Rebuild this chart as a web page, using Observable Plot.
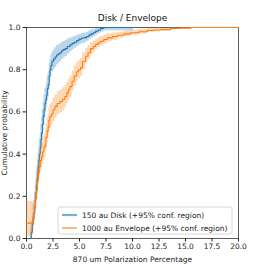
<!DOCTYPE html>
<html>
<head>
<meta charset="utf-8">
<script src="https://cdn.jsdelivr.net/npm/d3@7"></script>
<script src="https://cdn.jsdelivr.net/npm/@observablehq/plot@0.6"></script>
<style>
  html, body { margin: 0; padding: 0; background: #fff; }
  svg { display: block; }
</style>
</head>
<body>
<div id="chart"></div>
<script>
// ---- Data ----
const titleText = "Disk / Envelope";
const xLabel = "870 um Polarization Percentage";
const yLabel = "Cumulative probability";
const seriesNames = ["150 au Disk (+95% conf. region)", "1000 au Envelope (+95% conf. region)"];
const xTicks = [0, 2.5, 5, 7.5, 10, 12.5, 15, 17.5, 20];
const yTicks = [0, 0.2, 0.4, 0.6, 0.8, 1.0];

const diskX  = [0.38,0.45,0.55,0.62,0.69,0.76,0.83,0.90,0.95,1.00,1.05,1.10,1.16,1.22,1.30,1.36,1.42,1.50,1.58,1.66,1.74,1.82,1.89,1.96,2.05,2.14,2.22,2.30,2.40,2.55,2.70,2.84,3.00,3.15,3.30,3.47,3.65,3.85,4.10,4.30,4.50,4.73,4.95,5.20,5.45,5.67,5.90,6.10,6.30,6.52,6.75,6.99,7.30,10.1];
const diskY  = [0.00,0.03,0.07,0.10,0.12,0.15,0.19,0.22,0.25,0.28,0.31,0.34,0.37,0.40,0.43,0.47,0.50,0.54,0.58,0.61,0.64,0.66,0.68,0.71,0.73,0.77,0.80,0.82,0.84,0.85,0.86,0.87,0.875,0.88,0.89,0.895,0.90,0.91,0.918,0.925,0.93,0.938,0.945,0.95,0.952,0.957,0.965,0.97,0.975,0.982,0.988,0.995,1.0,1.0];
const diskLo = [0.00,0.00,0.02,0.04,0.06,0.08,0.12,0.15,0.18,0.21,0.24,0.27,0.30,0.33,0.36,0.40,0.43,0.47,0.51,0.54,0.57,0.60,0.62,0.65,0.67,0.71,0.74,0.77,0.79,0.80,0.81,0.822,0.83,0.838,0.848,0.856,0.863,0.875,0.886,0.895,0.902,0.91,0.918,0.924,0.928,0.935,0.944,0.95,0.956,0.964,0.971,0.978,0.985,0.985];
const diskHi = [0.05,0.08,0.12,0.16,0.18,0.22,0.26,0.29,0.32,0.35,0.38,0.41,0.44,0.47,0.50,0.54,0.57,0.61,0.65,0.68,0.71,0.72,0.74,0.77,0.79,0.83,0.85,0.87,0.885,0.895,0.905,0.915,0.918,0.922,0.93,0.934,0.938,0.945,0.95,0.955,0.958,0.963,0.968,0.972,0.974,0.978,0.985,0.988,0.992,0.997,1.0,1.0,1.0,1.0];

const envX  = [0.00,0.63,0.70,0.78,0.86,0.95,1.02,1.10,1.20,1.30,1.42,1.52,1.63,1.73,1.83,1.95,2.05,2.12,2.20,2.35,2.50,2.68,2.90,3.15,3.40,3.62,3.80,3.94,4.10,4.30,4.50,4.73,4.90,5.10,5.30,5.58,5.80,6.05,6.30,6.52,6.75,6.99,7.30,7.63,8.10,8.57,9.20,9.83,10.60,11.40,12.00,12.67,13.60,14.50,15.50,20.0];
const envY  = [0.073,0.10,0.12,0.15,0.19,0.23,0.27,0.31,0.34,0.37,0.39,0.41,0.43,0.44,0.48,0.51,0.53,0.56,0.578,0.59,0.61,0.626,0.64,0.65,0.66,0.673,0.69,0.705,0.72,0.745,0.77,0.79,0.80,0.81,0.84,0.864,0.88,0.90,0.91,0.92,0.928,0.935,0.943,0.951,0.957,0.963,0.97,0.975,0.98,0.986,0.988,0.99,0.995,0.997,1.0,1.0];
const envLo = [0.01,0.04,0.06,0.09,0.13,0.17,0.21,0.25,0.28,0.31,0.33,0.35,0.37,0.38,0.42,0.45,0.47,0.50,0.52,0.535,0.555,0.57,0.585,0.595,0.605,0.62,0.638,0.655,0.67,0.697,0.723,0.745,0.757,0.768,0.80,0.828,0.847,0.872,0.884,0.896,0.905,0.913,0.922,0.932,0.94,0.948,0.957,0.963,0.969,0.977,0.98,0.983,0.99,0.993,0.998,0.998];
const envHi = [0.175,0.17,0.18,0.21,0.25,0.29,0.33,0.37,0.40,0.43,0.45,0.47,0.49,0.50,0.54,0.57,0.59,0.62,0.636,0.645,0.665,0.68,0.695,0.705,0.715,0.726,0.742,0.755,0.77,0.793,0.817,0.835,0.843,0.852,0.88,0.9,0.913,0.928,0.936,0.944,0.951,0.957,0.964,0.97,0.974,0.978,0.983,0.987,0.991,0.995,0.996,0.997,1.0,1.0,1.0,1.0];

// ---- Tables ----
const disk = diskX.map((x, i) => ({x, y: diskY[i], lo: diskLo[i], hi: diskHi[i]}));
const env  = envX.map((x, i) => ({x, y: envY[i], lo: envLo[i], hi: envHi[i]}));

const blue = "#1f77b4", orange = "#ff7f0e";
const FONT = "DejaVu Sans, sans-serif";

const chart = Plot.plot({
  width: 264,
  height: 264,
  marginLeft: 26,
  marginRight: 26,
  marginTop: 27,
  marginBottom: 26,
  style: {fontFamily: FONT, fontSize: "7.5px", color: "#222", background: "#fff"},
  x: {domain: [0, 20]},
  y: {domain: [0, 1]},
  marks: [
    Plot.frame({stroke: "#333", strokeWidth: 0.8}),
    Plot.areaY(disk, {x: "x", y1: "lo", y2: "hi", curve: "step-after", fill: blue, fillOpacity: 0.3}),
    Plot.line(disk, {x: "x", y: "y", curve: "step-after", stroke: blue, strokeWidth: 1.1}),
    Plot.areaY(env, {x: "x", y1: "lo", y2: "hi", curve: "step-after", fill: orange, fillOpacity: 0.3}),
    Plot.line(env, {x: "x", y: "y", curve: "step-after", stroke: orange, strokeWidth: 1.1}),
    Plot.axisX({ticks: xTicks, tickFormat: d3.format(".1f"), tickSize: 3.5, tickPadding: 2,
      label: xLabel, labelAnchor: "center", labelArrow: "none", labelOffset: 23, fontSize: 7.5}),
    Plot.axisY({ticks: yTicks, tickFormat: d3.format(".1f"), tickSize: 3.5, tickPadding: 2.5,
      label: yLabel, labelAnchor: "center", labelArrow: "none", labelOffset: 25, fontSize: 7.5}),
    Plot.text([titleText], {frameAnchor: "top", dy: -9, text: d => d, fontSize: 9, lineAnchor: "middle", fill: "#111"})
  ]
});

// ---- Legend (inside plot, lower right) ----
const svg = d3.select(chart);
const lg = svg.append("g").attr("font-family", FONT).attr("font-size", 7.5).attr("text-anchor", "start");
lg.append("rect").attr("x", 58).attr("y", 207).attr("width", 174).attr("height", 27)
  .attr("rx", 2).attr("fill", "#fff").attr("fill-opacity", 0.85).attr("stroke", "#ccc").attr("stroke-width", 0.8);
const handles = [
  {c: blue, w: 2.2, o: 0.6},
  {c: orange, w: 1.1, o: 1}
];
seriesNames.forEach((name, i) => {
  const yy = 215 + i * 13;
  lg.append("line").attr("x1", 62).attr("x2", 77).attr("y1", yy).attr("y2", yy)
    .attr("stroke", handles[i].c).attr("stroke-width", handles[i].w).attr("stroke-opacity", handles[i].o);
  lg.append("text").attr("x", 82).attr("y", yy).attr("dy", "0.35em").attr("text-anchor", "start")
    .attr("fill", "#222").text(name);
});

document.getElementById("chart").appendChild(chart);
</script>
</body>
</html>
